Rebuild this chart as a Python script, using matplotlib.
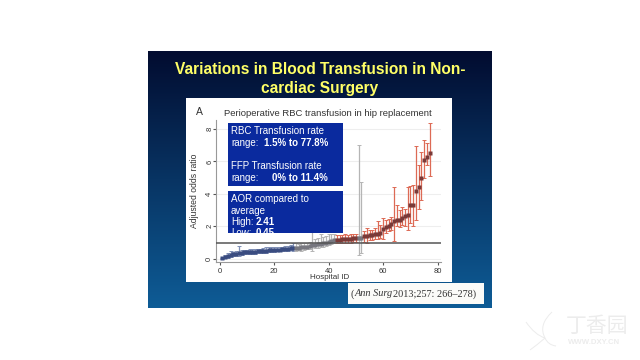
import matplotlib
matplotlib.use("Agg")
import matplotlib.pyplot as plt
import numpy as np
from matplotlib.patches import Rectangle, PathPatch
from matplotlib.path import Path

plt.rcParams['font.family'] = ['Liberation Sans', 'DejaVu Sans']

title_lines = ["Variations in Blood Transfusion in Non-", "cardiac Surgery"]
panel_title = "Perioperative RBC transfusion in hip replacement"
citation_journal = "Ann Surg"
citation_rest = "2013;257: 266–278)"

hospital_id = list(range(1, 78))
aor = [0.03, 0.1, 0.15, 0.22, 0.28, 0.32, 0.35, 0.37, 0.39, 0.4, 0.42, 0.43, 0.44, 0.46, 0.47, 0.48, 0.5, 0.52, 0.54, 0.55,
       0.56, 0.57, 0.58, 0.6, 0.62, 0.64, 0.66, 0.67, 0.68, 0.7, 0.72, 0.75, 0.78, 0.85, 0.87, 0.9, 0.93, 0.96, 1.0, 1.05,
       1.1, 1.15, 1.17, 1.18, 1.19, 1.2, 1.21, 1.22, 1.25, 1.27, 1.28, 1.3, 1.38, 1.42, 1.45, 1.48, 1.5, 1.55, 1.6, 1.85,
       1.95, 2.05, 2.15, 2.3, 2.4, 2.42, 2.5, 2.65, 2.7, 3.3, 3.32, 4.2, 4.45, 5.0, 6.07, 6.25, 6.5]
ci_low = [0.0, 0.03, 0.05, 0.1, 0.14, 0.18, 0.2, 0.25, 0.27, 0.28, 0.3, 0.3, 0.32, 0.34, 0.35, 0.36, 0.38, 0.4, 0.42, 0.43,
          0.45, 0.45, 0.47, 0.48, 0.5, 0.52, 0.45, 0.5, 0.55, 0.5, 0.55, 0.6, 0.6, 0.45, 0.65, 0.68, 0.7, 0.75, 0.8, 0.85,
          0.9, 0.95, 0.95, 0.97, 0.98, 0.98, 1.0, 1.0, 1.02, 1.03, 0.25, 0.35, 1.05, 1.0, 1.15, 1.18, 1.2, 1.2, 1.25, 1.2,
          1.6, 1.7, 1.75, 1.1, 2.0, 1.95, 2.1, 2.0, 1.8, 2.2, 2.0, 2.4, 3.1, 3.65, 5.0, 5.8, 5.1]
ci_high = [0.06, 0.25, 0.35, 0.45, 0.42, 0.5, 0.8, 0.55, 0.55, 0.55, 0.6, 0.58, 0.6, 0.62, 0.62, 0.65, 0.7, 0.7, 0.72, 0.72,
           0.72, 0.72, 0.75, 0.76, 0.8, 0.85, 1.0, 0.95, 0.9, 0.95, 1.0, 1.0, 1.05, 2.05, 1.2, 1.3, 1.5, 1.35, 1.4, 1.5,
           1.5, 1.5, 1.45, 1.45, 1.45, 1.5, 1.45, 1.5, 1.55, 1.55, 7.0, 4.73, 1.7, 1.9, 1.8, 1.8, 1.9, 2.3, 2.1, 2.5,
           2.4, 2.45, 2.6, 4.45, 3.3, 3.0, 3.2, 3.1, 4.45, 4.5, 4.55, 6.95, 5.8, 6.6, 7.35, 7.15, 8.35]
blue_end = 27
grey_end = 42
grey_extra = [51, 52]

x_ticks = [0, 20, 40, 60, 80]
y_ticks = [0, 2, 4, 6, 8]

fig = plt.figure(figsize=(6.4, 3.6), dpi=100, facecolor="white")

# pixel canvas for the slide
bg = fig.add_axes([0, 0, 1, 1])
bg.axis("off")

grad = np.zeros((256, 1, 3))
top = np.array([2, 12, 48]) / 255
bottom = np.array([14, 92, 150]) / 255
grad[:, 0] = top + (bottom - top) * np.linspace(0, 1, 256)[:, None]
bg.imshow(grad, extent=[148, 492, 308, 51], aspect="auto", zorder=0)
bg.set_xlim(0, 640)
bg.set_ylim(360, 0)

title_color = "#ffff66"
bg.text(320, 69, title_lines[0], color=title_color, fontsize=11.2, fontweight="bold", ha="center", va="center")
bg.text(320, 88, title_lines[1], color=title_color, fontsize=11.2, fontweight="bold", ha="center", va="center")

bg.add_patch(Rectangle((186, 98), 266, 184, fc="white", ec="none", zorder=1))
bg.add_patch(Rectangle((348, 283), 136, 21, fc="#fbfbf8", ec="none", zorder=1))
cite = dict(color="#333333", fontsize=7.4, family="Liberation Serif", va="center")
bg.text(350.5, 294, "(", **cite)
bg.text(354.5, 294, citation_journal, style="italic", **cite)
bg.text(393, 294, citation_rest, **cite)

bg.text(196, 112, "A", color="#333333", fontsize=7.5, va="center")
bg.text(224, 113, panel_title, color="#333333", fontsize=6.8, va="center")

# chart
ax = fig.add_axes([216 / 640, 1 - 262 / 360, (441 - 216) / 640, (262 - 120) / 360])
ax.patch.set_alpha(0)
ax.set_zorder(2)
ax.set_xlim(-1.36, 81.2)
ax.set_ylim(-0.2, 8.56)
ax.spines["top"].set_visible(False)
ax.spines["right"].set_visible(False)
ax.spines["left"].set_color("#999999")
ax.spines["bottom"].set_color("#999999")
ax.set_axisbelow(True)
ax.grid(axis="y", color="#eeeeee", lw=0.8)
ax.set_xticks(x_ticks)
ax.set_yticks(y_ticks)
ax.tick_params(axis="x", labelsize=5.5, length=2, color="#555555", labelcolor="#333333", pad=2)
ax.tick_params(axis="y", labelsize=5.5, length=2, color="#555555", labelcolor="#333333", pad=0, labelrotation=90)
for lab in ax.get_yticklabels():
    lab.set_va("center")
ax.set_ylabel("Adjusted odds ratio", fontsize=6.2, color="#333333", labelpad=0)
ax.yaxis.set_label_coords(-0.075, 0.5)

for i, a, lo, hi in zip(hospital_id, aor, ci_low, ci_high):
    if i <= blue_end:
        c, m = "#7f8fb5", "#3a4c80"
    elif i <= grey_end or i in grey_extra:
        c, m = "#b5b5b5", "#77777f"
    else:
        c, m = "#dd6a55", "#7a3a38"
    ax.errorbar(i, a, yerr=[[a - lo], [hi - a]], color=c, lw=0.9, capsize=1.7, capthick=0.7, zorder=3)
    ax.plot(i, a, "s", color=m, ms=2.4, mec="none", zorder=4)
ax.axhline(1, color="#555555", lw=1.1, zorder=5)
ax.text(40.2, -0.2 - 0.95, "Hospital ID", fontsize=5.8, color="#333333", ha="center", va="center", clip_on=False)

# text boxes on top of chart
fg = fig.add_axes([0, 0, 1, 1])
fg.set_xlim(0, 640)
fg.set_ylim(360, 0)
fg.axis("off")
fg.set_zorder(3)
box_color = "#0a2a9e"
fg.add_patch(Rectangle((228, 123), 115, 63, fc=box_color, ec="none"))
box2 = Rectangle((228, 191), 115, 42, fc=box_color, ec="none")
fg.add_patch(box2)

def put(x, y, s, bold=False):
    return fg.text(x, y, s, color="white", fontsize=7, fontweight="bold" if bold else "normal", va="center")

put(231, 131, "RBC Transfusion rate")
put(231, 143, "range:")
put(264, 143, "1.5% to 77.8%", bold=True)
put(231, 166, "FFP Transfusion rate")
put(231, 178, "range:")
put(272, 178, "0% to 11.4%", bold=True)
put(231, 199, "AOR compared to")
put(231, 210.5, "average")
put(231, 222, "High:")
put(256, 222, "2.41", bold=True)
t = put(231, 233.5, "Low:")
t.set_clip_path(box2)
t = put(256, 233.5, "0.45", bold=True)
t.set_clip_path(box2)

# watermark
wm = "#ececec"
for verts in [[(526, 322), (535, 335), (545, 338)], [(552, 312), (538, 325), (545, 338)],
              [(545, 338), (548, 345), (556, 346)], [(530, 350), (537, 345), (545, 338)]]:
    fg.add_patch(PathPatch(Path(verts, [Path.MOVETO, Path.CURVE3, Path.CURVE3]), fc="none", ec=wm, lw=0.7))
fg.text(597, 326, "丁香园", color=wm, fontsize=15, family=["Noto Sans CJK SC", "DejaVu Sans"], ha="center", va="center")
fg.text(594, 342, "WWW.DXY.CN", color=wm, fontsize=5.6, fontweight="bold", ha="center", va="center")

fig.savefig("out.png", dpi=100)
